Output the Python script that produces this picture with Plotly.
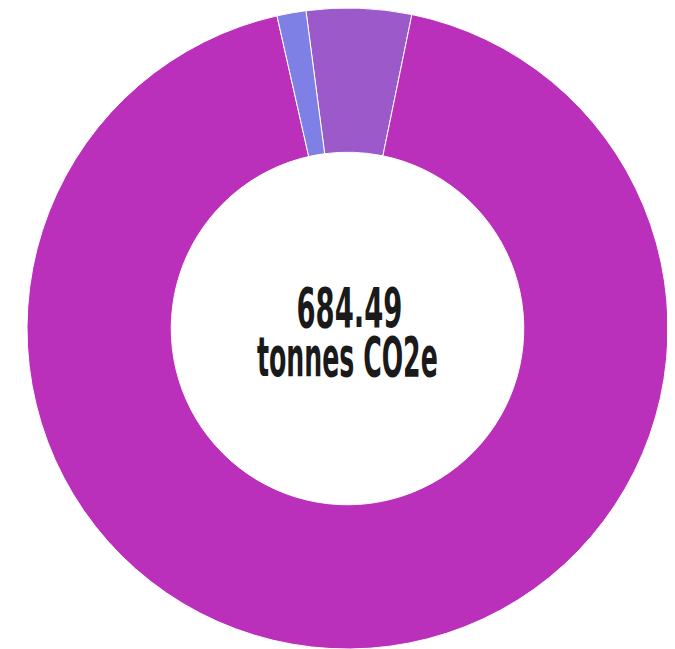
import plotly.graph_objects as go

labels = ["Category B", "Category A", "Category C"]
values = [36.2, 638.3, 10.0]
colors = ["#9B59C9", "#BB30BB", "#7F80E6"]
total_label = "684.49"
unit_label = "tonnes CO2e"

fig = go.Figure(go.Pie(
    labels=labels,
    values=values,
    hole=0.55,
    sort=False,
    direction="clockwise",
    rotation=-7.45,
    marker=dict(colors=colors, line=dict(color="white", width=1)),
    textinfo="none",
    hoverinfo="label+value",
    showlegend=False,
    domain=dict(x=[19 / 675, 660 / 675], y=[8 / 649, 1.0]),
))

font = dict(family="DejaVu Sans Condensed, DejaVu Sans, sans-serif", size=55,
            color="#1a1a1a", weight="bold")

fig.add_annotation(text=total_label, x=341 / 675, y=1 - 300 / 649,
                   xref="paper", yref="paper", showarrow=False,
                   xanchor="center", yanchor="middle", font=font)
fig.add_annotation(text=unit_label, x=339.5 / 675, y=1 - 349 / 649,
                   xref="paper", yref="paper", showarrow=False,
                   xanchor="center", yanchor="middle", font=font)

fig.update_layout(
    width=675, height=649,
    margin=dict(l=0, r=0, t=0, b=0),
    paper_bgcolor="white",
    plot_bgcolor="white",
)

post = """
var s = document.createElement('style');
s.textContent = '.annotation .annotation-text{transform-box:fill-box;transform-origin:center;}' +
  '.annotation[data-index="0"] .annotation-text{transform:scaleX(0.555);}' +
  '.annotation[data-index="1"] .annotation-text{transform:scaleX(0.51);}';
document.head.appendChild(s);
"""

fig.write_html("out.html", post_script=post)
